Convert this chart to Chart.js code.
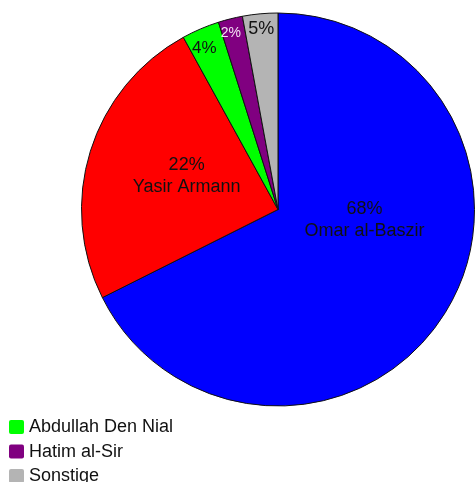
<!DOCTYPE html>
<html>
<head>
<meta charset="utf-8">
<script src="https://cdn.jsdelivr.net/npm/chart.js@4/dist/chart.umd.min.js"></script>
<style>
html,body{margin:0;padding:0;background:#fff;}
#wrap{width:475px;height:482px;}
</style>
</head>
<body>
<div id="wrap"><canvas id="c" width="475" height="482"></canvas></div>
<script>
// Data
const candidates = ['Omar al-Baszir', 'Yasir Armann', 'Abdullah Den Nial', 'Hatim al-Sir', 'Sonstige'];
const shares = [67.6, 24.4, 3.1, 2.0, 2.9];           // slice sizes as drawn
const shareLabels = ['68%', '22%', '4%', '2%', '5%'];  // percentages printed on the slices
const legendItems = [2, 3, 4];                        // entries shown in the legend

// Styles
const colors = ['#0000ff', '#ff0000', '#00ff00', '#800080', '#b4b4b4'];
const labelStyle = [
  {fx: 0.44, fy: 0.055, size: 18, color: '#111', showName: true},
  {fx: -0.465, fy: -0.17, size: 18, color: '#111', showName: true},
  {fx: -0.375, fy: -0.82, size: 17, color: '#111', showName: false},
  {fx: -0.24, fy: -0.895, size: 14, color: '#f2e2f2', showName: false},
  {fx: -0.085, fy: -0.92, size: 18, color: '#111', showName: false}
];
const FONT = '"Liberation Sans", Arial, sans-serif';

const sliceLabels = {
  id: 'sliceLabels',
  afterDatasetsDraw(chart) {
    const ctx = chart.ctx;
    const meta = chart.getDatasetMeta(0);
    ctx.save();
    ctx.textAlign = 'center';
    ctx.textBaseline = 'middle';
    meta.data.forEach((arc, i) => {
      const st = labelStyle[i];
      const r = arc.outerRadius;
      const x = arc.x + st.fx * r;
      const y = arc.y + st.fy * r;
      ctx.fillStyle = st.color;
      ctx.font = st.size + 'px ' + FONT;
      if (st.showName) {
        ctx.fillText(shareLabels[i], x, y - 11);
        ctx.fillText(candidates[i], x, y + 11);
      } else {
        ctx.fillText(shareLabels[i], x, y);
      }
    });
    ctx.restore();
  }
};

const customLegend = {
  id: 'customLegend',
  afterDraw(chart) {
    const ctx = chart.ctx;
    ctx.save();
    ctx.font = '18px ' + FONT;
    ctx.textBaseline = 'middle';
    ctx.textAlign = 'left';
    legendItems.forEach((idx, row) => {
      const top = 420 + row * 24.5;
      ctx.fillStyle = colors[idx];
      ctx.beginPath();
      if (ctx.roundRect) ctx.roundRect(9, top, 15, 14, 2); else ctx.rect(9, top, 15, 14);
      ctx.fill();
      ctx.fillStyle = '#111';
      ctx.fillText(candidates[idx], 29, top + 7.5);
    });
    ctx.restore();
  }
};

new Chart(document.getElementById('c'), {
  type: 'pie',
  data: {
    labels: candidates,
    datasets: [{
      data: shares,
      backgroundColor: colors,
      borderColor: '#111',
      borderWidth: 1
    }]
  },
  options: {
    responsive: false,
    animation: false,
    layout: {padding: {left: 81, top: 12, right: 0, bottom: 75}},
    plugins: {
      legend: {display: false},
      tooltip: {enabled: false},
      title: {display: false}
    }
  },
  plugins: [sliceLabels, customLegend]
});
</script>
</body>
</html>
